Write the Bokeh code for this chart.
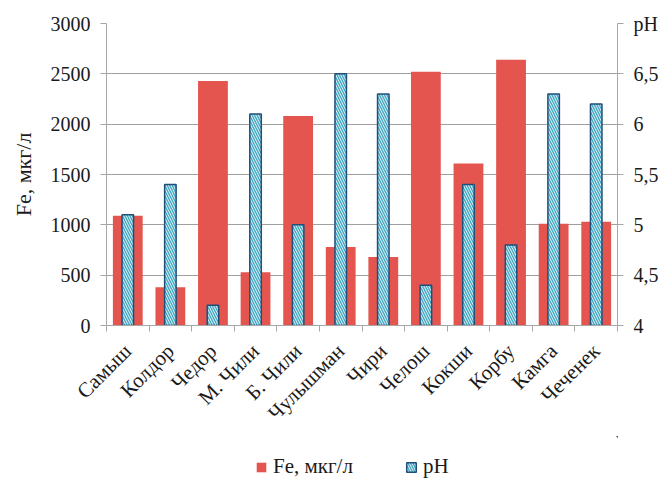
import numpy as np
from math import pi
from bokeh.plotting import figure
from bokeh.layouts import column
from bokeh.models import (ColumnDataSource, Range1d, LinearAxis, FixedTicker,
                          Legend, LegendItem)
from bokeh.embed import file_html
from bokeh.resources import INLINE

categories = ["Самыш", "Колдор", "Чедор", "М. Чили", "Б. Чили", "Чулышман",
              "Чири", "Челош", "Кокши", "Корбу", "Камга", "Чеченек"]
fe_values = [1090, 380, 2430, 530, 2080, 780, 680, 2520, 1610, 2640, 1010, 1030]
ph_values = [5.1, 5.4, 4.2, 6.1, 5.0, 6.5, 6.3, 4.4, 5.4, 4.8, 6.3, 6.2]
fe_ticks = [0, 500, 1000, 1500, 2000, 2500, 3000]
ph_ticks = [4, 4.5, 5, 5.5, 6, 6.5, 7]
ph_tick_labels = ["4", "4,5", "5", "5,5", "6", "6,5", "pH"]
series_names = ["Fe, мкг/л", "pH"]

FONT = "Liberation Serif"
TXT = "#1a1a1a"
AXC = "#a6a6a6"
FE_COLOR = "#E5554F"
PH_LINE = "#1F4E79"
PH_HATCH = "#4BACC6"

n = len(categories)
xc = np.arange(n) + 0.5
src = ColumnDataSource(dict(x=xc, fe=fe_values, ph=ph_values, name=categories))

p = figure(frame_width=511, frame_height=302, output_backend="svg", toolbar_location=None,
           x_range=Range1d(0, n), y_range=Range1d(0, 3000),
           min_border_left=106, min_border_right=45, min_border_top=23,
           min_border_bottom=0)
p.outline_line_color = None
p.background_fill_color = "white"
p.border_fill_color = "white"

p.extra_y_ranges = {"ph": Range1d(4, 7)}

fe_style = dict(fill_color=FE_COLOR, line_color=None)
ph_style = dict(fill_color="white", line_color=PH_LINE, line_width=1.5,
                hatch_pattern="\\", hatch_color=PH_HATCH, hatch_scale=5, hatch_weight=1.6)

p.vbar(x="x", top="fe", bottom=0, width=0.7, source=src, **fe_style)
p.vbar(x="x", top="ph", bottom=4, width=0.27, source=src, y_range_name="ph", **ph_style)

# x axis
xa = p.xaxis[0]
xa.ticker = FixedTicker(ticks=list(xc), minor_ticks=list(range(n + 1)))
xa.major_label_overrides = {float(v): c for v, c in zip(xc, categories)}
xa.major_label_orientation = pi / 4
xa.major_tick_out = 0
xa.major_tick_in = 0
xa.minor_tick_out = 6
xa.minor_tick_in = 0
xa.minor_tick_line_color = AXC
xa.axis_line_color = AXC
xa.major_label_text_font = FONT
xa.major_label_text_font_size = "21px"
xa.major_label_text_color = TXT
xa.major_label_standoff = 16

# left axis
ya = p.yaxis[0]
ya.ticker = FixedTicker(ticks=fe_ticks)
ya.axis_label = "Fe, мкг/л"
ya.axis_label_text_font = FONT
ya.axis_label_text_font_style = "normal"
ya.axis_label_text_font_size = "22px"
ya.axis_label_text_color = TXT
ya.axis_label_standoff = 12
ya.major_label_text_font = FONT
ya.major_label_text_font_size = "20px"
ya.major_label_text_color = TXT
ya.axis_line_color = AXC
ya.major_tick_line_color = AXC
ya.major_tick_out = 6
ya.major_tick_in = 0
ya.minor_tick_line_color = None
ya.major_label_standoff = 10

# right axis
ra = LinearAxis(y_range_name="ph", ticker=FixedTicker(ticks=ph_ticks))
ra.major_label_overrides = {float(v): s for v, s in zip(ph_ticks, ph_tick_labels)}
ra.major_label_text_font = FONT
ra.major_label_text_font_size = "20px"
ra.major_label_text_color = TXT
ra.axis_line_color = AXC
ra.major_tick_line_color = AXC
ra.major_tick_out = 6
ra.major_tick_in = 0
ra.minor_tick_line_color = None
ra.major_label_standoff = 10
p.add_layout(ra, "right")

p.xgrid.grid_line_color = None
p.ygrid.grid_line_color = "#a0a0a0"
p.ygrid.grid_line_width = 1
p.ygrid.ticker = FixedTicker(ticks=fe_ticks)

# legend strip (separate small figure below the chart; its bars lie outside its view)
lp = figure(width=662, height=45, output_backend="svg", toolbar_location=None,
            x_axis_location=None, y_axis_location=None,
            x_range=Range1d(-2, -1), y_range=Range1d(-2, -1), min_border=0)
lp.outline_line_color = None
lp.xgrid.visible = False
lp.ygrid.visible = False
d_fe = lp.vbar(x="x", top="fe", bottom=0, width=0.7, source=src, **fe_style)
d_ph = lp.vbar(x="x", top="ph", bottom=4, width=0.27, source=src, **ph_style)

legend = Legend(items=[LegendItem(label=series_names[0], renderers=[d_fe]),
                       LegendItem(label=series_names[1], renderers=[d_ph])],
                orientation="horizontal", location=(149, 2),
                label_text_font=FONT, label_text_font_size="21px",
                label_text_color=TXT, border_line_color=None,
                background_fill_alpha=0,
                glyph_width=12, glyph_height=12,
                label_standoff=6, label_height=20, spacing=52, margin=0, padding=0)
lp.add_layout(legend, "center")

open("out.html", "w").write(file_html(column(p, lp, spacing=0), INLINE))
